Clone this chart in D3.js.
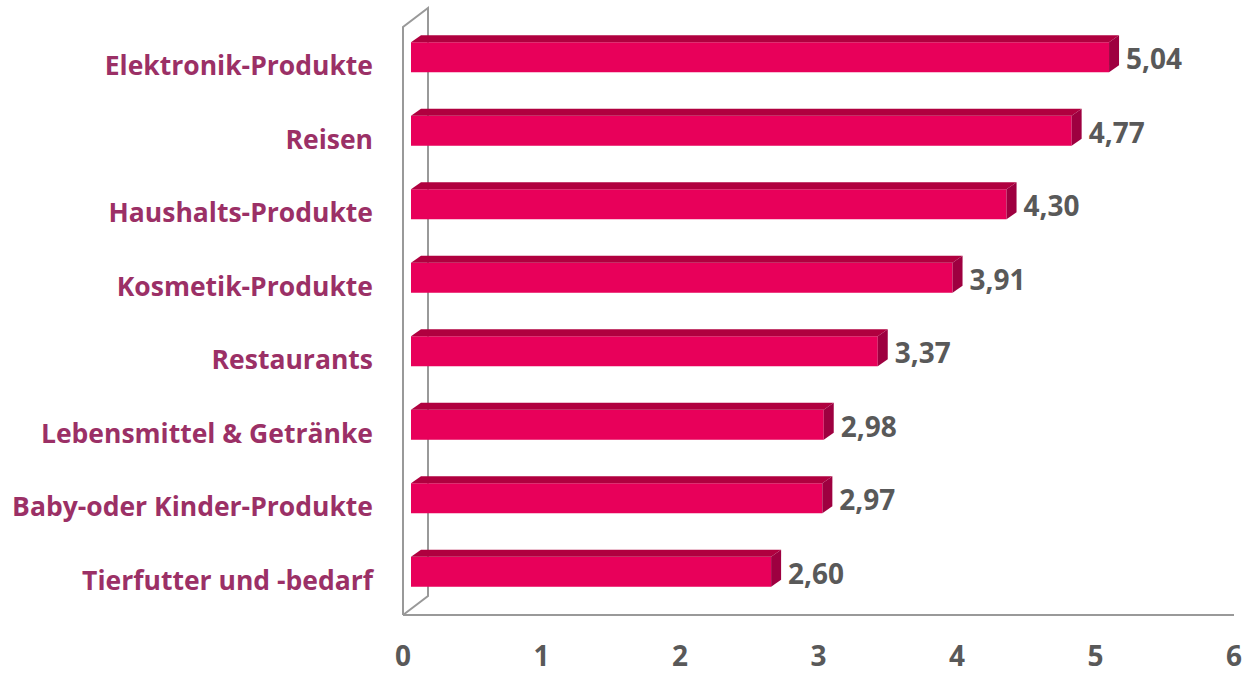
<!DOCTYPE html>
<html>
<head>
<meta charset="utf-8">
<script src="https://cdn.jsdelivr.net/npm/d3@7"></script>
<style>
  body { margin: 0; background: #fff; }
  text { font-family: "Open Sans", Lato, sans-serif; font-weight: bold; }
</style>
</head>
<body>
<svg width="1249" height="678"></svg>
<script>
let categories = ['Elektronik-Produkte', 'Reisen', 'Haushalts-Produkte', 'Kosmetik-Produkte',
                  'Restaurants', 'Lebensmittel & Getränke', 'Baby-oder Kinder-Produkte', 'Tierfutter und -bedarf'];
let values = [5.04, 4.77, 4.30, 3.91, 3.37, 2.98, 2.97, 2.60];
let ticks = [0, 1, 2, 3, 4, 5, 6];

let svg = d3.select('svg');

// front plane of the plot
let plotLeft = 403, plotRight = 1234, plotTop = 27, plotBottom = 615;
// wall depth
let dx = 25, dy = -19;
// bar offset inside depth and bar's own depth
let bx = 8, by = -6.5, bdx = 10, bdy = -7;
let barH = 30;

let xScale = d3.scaleLinear().domain([0, 6]).range([plotLeft, plotRight]);
let yScale = d3.scaleBand().domain(categories).range([plotTop, plotBottom]);

let fmt = v => d3.format('.2f')(v).replace('.', ',');

// walls
let wall = svg.append('g').attr('stroke', '#999').attr('stroke-width', 2).attr('fill', 'none');
wall.append('path').attr('d', `M${plotLeft},${plotBottom} L${plotLeft},${plotTop} L${plotLeft + dx},${plotTop + dy} L${plotLeft + dx},${plotBottom + dy} L${plotLeft},${plotBottom}`);
wall.append('line')
    .attr('x1', plotLeft).attr('x2', plotRight)
    .attr('y1', plotBottom).attr('y2', plotBottom);

// bars
let bars = svg.selectAll('.bar')
    .data(categories.map((c, i) => ({ c, v: values[i] })))
    .enter()
    .append('g')
        .classed('bar', true);

let x0 = plotLeft + bx;
let cy = d => yScale(d.c) + yScale.bandwidth() / 2 + by;
let xEnd = d => x0 + xScale(d.v) - plotLeft;

bars.append('rect')
    .attr('x', x0)
    .attr('y', d => cy(d) - barH / 2)
    .attr('width', d => xScale(d.v) - plotLeft)
    .attr('height', barH)
    .attr('fill', '#E8005A');

bars.append('path')
    .attr('d', d => {
        let y = cy(d) - barH / 2, x1 = xEnd(d);
        return `M${x0},${y} L${x0 + bdx},${y + bdy} L${x1 + bdx},${y + bdy} L${x1},${y} Z`;
    })
    .attr('fill', '#B0003F');

bars.append('path')
    .attr('d', d => {
        let y = cy(d) - barH / 2, x1 = xEnd(d);
        return `M${x1},${y} L${x1 + bdx},${y + bdy} L${x1 + bdx},${y + barH + bdy} L${x1},${y + barH} Z`;
    })
    .attr('fill', '#9E0040');

bars.append('text')
    .text(d => fmt(d.v))
    .attr('x', d => xEnd(d) + bdx + 7)
    .attr('y', d => cy(d) + 2)
    .attr('dy', '0.35em')
    .attr('fill', '#595959')
    .style('font-size', '28px');

// category labels
svg.append('g').selectAll('text')
    .data(categories)
    .enter()
    .append('text')
        .text(d => d)
        .attr('x', 373)
        .attr('y', d => yScale(d) + yScale.bandwidth() / 2 + 2)
        .attr('dy', '0.35em')
        .attr('text-anchor', 'end')
        .attr('fill', '#9B3066')
        .style('font-size', '26.5px');

// x tick labels
svg.append('g').selectAll('text')
    .data(ticks)
    .enter()
    .append('text')
        .text(d => d)
        .attr('x', d => xScale(d))
        .attr('y', 656)
        .attr('dy', '0.35em')
        .attr('text-anchor', 'middle')
        .attr('fill', '#595959')
        .style('font-size', '28px');
</script>
</body>
</html>
